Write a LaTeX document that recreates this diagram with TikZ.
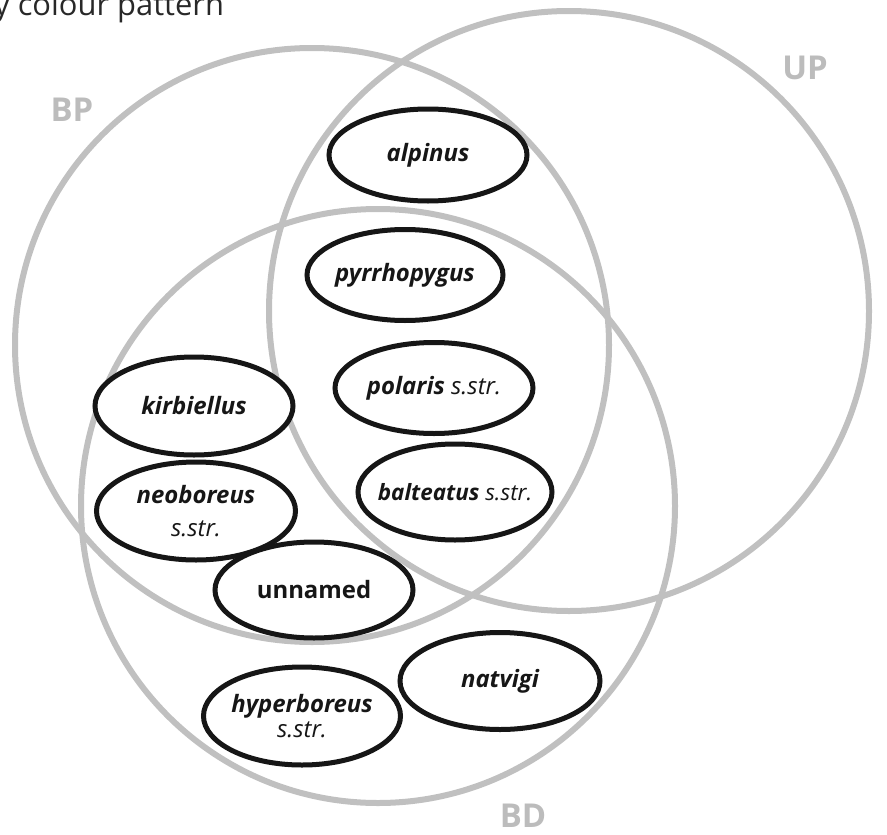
\documentclass[tikz,border=0pt]{standalone}
\usepackage{fontspec}
\setmainfont{Open Sans}
\usetikzlibrary{shapes.geometric}
\definecolor{ringc}{RGB}{192,192,192}
\definecolor{labc}{RGB}{188,188,188}
\definecolor{inkc}{RGB}{22,22,22}
\definecolor{titlec}{RGB}{40,40,40}
\begin{document}
\begin{tikzpicture}[x=1bp,y=-1bp,
  ring/.style={draw=ringc, line width=6bp},
  sp/.style={ellipse, draw=inkc, line width=5bp, fill=white, inner xsep=-30bp, inner ysep=-10bp,
    font=\fontsize{24}{28}\selectfont\bfseries\itshape, text=inkc, align=center},
  setlabel/.style={text=labc, font=\fontsize{33}{36}\selectfont\bfseries, inner sep=0pt, anchor=base}]
\useasboundingbox (0,0) rectangle (887,835);
\node[anchor=base west, inner sep=0pt, text=titlec, font=\fontsize{31}{34}\selectfont] (title) at (-6,15) {y colour pattern};
% set circles
\draw[ring] (312,345) circle[radius=297];
\draw[ring] (569,311) circle[radius=300];
\draw[ring] (378,506) circle[radius=297];
% set labels
\node[setlabel] (bp) at (72,121) {BP};
\node[setlabel] (up) at (805,79) {UP};
\node[setlabel] (bd) at (523,827) {BD};
% taxa
\node[sp, minimum width=198bp, minimum height=92bp] (alpinus) at (428,155) {alpinus};
\node[sp, minimum width=196bp, minimum height=91bp] (pyrrho) at (405,275) {pyrrhopygus};
\node[sp, minimum width=198bp, minimum height=91bp] (polaris) at (434,388) {polaris {\mdseries s.str.}};
\node[sp, minimum width=194bp, minimum height=96bp, font=\fontsize{22.5}{27}\selectfont\bfseries\itshape] (balteatus) at (455,492) {balteatus {\mdseries s.str.}};
\node[sp, minimum width=198bp, minimum height=98bp] (kirbiellus) at (194,406) {kirbiellus};
\node[sp, minimum width=199bp, minimum height=98bp] (neoboreus) at (196,511) {neoboreus\\[5bp]{\mdseries s.str.}};
\node[sp, minimum width=198bp, minimum height=96bp, font=\fontsize{24}{28}\selectfont\bfseries] (unnamed) at (314,590) {unnamed};
\node[sp, minimum width=200bp, minimum height=97bp] (natvigi) at (500,681) {natvigi};
\node[sp, minimum width=197bp, minimum height=98bp] (hyper) at (302,716) {hyperboreus\\[-3bp]{\mdseries s.str.}};
\end{tikzpicture}
\end{document}
